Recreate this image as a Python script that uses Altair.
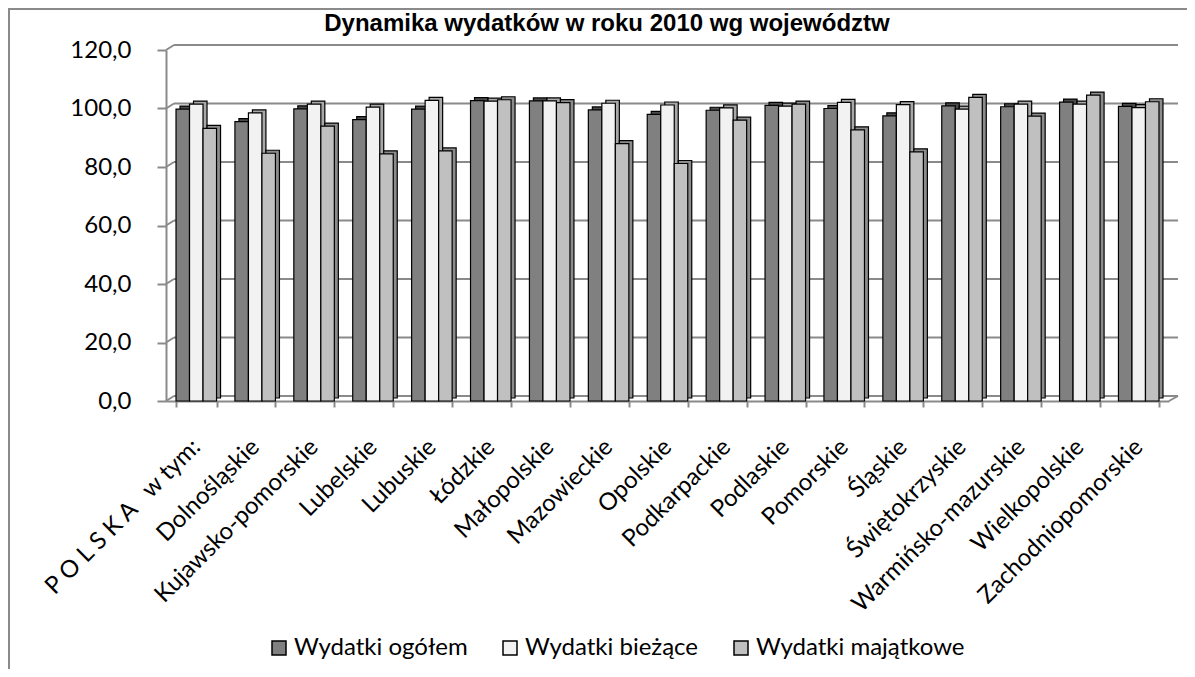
import altair as alt
import pandas as pd

title_text = "Dynamika wydatków w roku 2010 wg województw"
categories = ["P O L S K A\u00a0\u00a0\u00a0w tym:", "Dolnośląskie", "Kujawsko-pomorskie", "Lubelskie",
              "Lubuskie", "Łódzkie", "Małopolskie", "Mazowieckie", "Opolskie",
              "Podkarpackie", "Podlaskie", "Pomorskie", "Śląskie", "Świętokrzyskie",
              "Warmińsko-mazurskie", "Wielkopolskie", "Zachodniopomorskie"]
series = ["Wydatki ogółem", "Wydatki bieżące", "Wydatki majątkowe"]
ogolem = [99.8, 95.5, 99.9, 96.2, 99.8, 102.7, 102.6, 99.5, 98.0, 99.4, 101.1, 100.0, 97.5, 100.9, 100.6, 102.2, 100.7]
biezace = [101.5, 98.5, 101.5, 100.5, 102.8, 102.5, 102.6, 101.8, 101.2, 100.2, 100.8, 102.1, 101.3, 99.8, 101.5, 101.5, 100.3]
majatkowe = [93.2, 84.7, 94.0, 84.5, 85.5, 103.0, 102.0, 88.0, 81.2, 96.0, 101.5, 92.7, 85.2, 103.8, 97.4, 104.6, 102.3]
y_ticks = [0, 20, 40, 60, 80, 100, 120]

rows = []
for i, c in enumerate(categories):
    for s, vals in zip(series, [ogolem, biezace, majatkowe]):
        rows.append({"kategoria": c, "seria": s, "wartosc": vals[i]})
df = pd.DataFrame(rows)
grid = pd.DataFrame({"v": y_ticks})
one = pd.DataFrame({"k": [0]})

W, H = 1003, 351
FONT = "Lato"
GRAY = "#8a8a8a"
front_colors = ["#808080", "#f2f2f2", "#c0c0c0"]
depth_colors = ["#4a4a4a", "#a8a8a8", "#8c8c8c"]

yscale = alt.Scale(domain=[0, 120], nice=False)
yaxis = alt.Axis(values=y_ticks, title=None, grid=False,
                 labelExpr="replace(format(datum.value, '.1f'), '.', ',')",
                 labelFont=FONT, labelFontSize=24, labelColor="black",
                 labelPadding=26, tickSize=9, tickColor=GRAY, tickWidth=2,
                 domainColor=GRAY, domainWidth=2)

box = alt.Chart(one).mark_rect(fill=None, stroke=GRAY, strokeWidth=2).encode(
    x=alt.value(-157), x2=alt.value(W + 200), y=alt.value(-41), y2=alt.value(H + 500))

title = alt.Chart(one).mark_text(font="Liberation Sans", fontSize=24, fontWeight="bold",
                                 color="black", align="center", baseline="alphabetic").encode(
    x=alt.value(441), y=alt.value(-19), text=alt.value(title_text))

backgrid = alt.Chart(grid).mark_rule(color=GRAY, strokeWidth=2, yOffset=-5).encode(
    y=alt.Y("v:Q", scale=yscale, axis=yaxis), x=alt.value(8), x2=alt.value(W + 9))

connect = alt.Chart(grid).mark_rule(color=GRAY, strokeWidth=2, y2Offset=-5).encode(
    y=alt.Y("v:Q", scale=yscale, axis=yaxis), y2="v:Q", x=alt.value(0), x2=alt.value(8))

floor_side = alt.Chart(grid).transform_filter("datum.v == 0").mark_rule(
    color=GRAY, strokeWidth=2, y2Offset=-5).encode(
    y=alt.Y("v:Q", scale=yscale, axis=yaxis), y2="v:Q", x=alt.value(W), x2=alt.value(W + 9))

depth = alt.Chart(df).mark_bar(stroke="black", strokeWidth=1.2, yOffset=-3, y2Offset=-3).encode(
    x=alt.X("kategoria:N", sort=categories,
            scale=alt.Scale(range=[4, W + 4], paddingInner=0.312, paddingOuter=0.17), axis=None),
    xOffset=alt.XOffset("seria:N", sort=series),
    y=alt.Y("wartosc:Q", scale=yscale, axis=yaxis),
    color=alt.Color("seria:N", sort=series,
                    scale=alt.Scale(domain=series, range=depth_colors), legend=None))

front = alt.Chart(df).mark_bar(stroke="black", strokeWidth=1.2).encode(
    x=alt.X("kategoria:N", sort=categories,
            scale=alt.Scale(range=[0, W], paddingInner=0.312, paddingOuter=0.17),
            axis=alt.Axis(title=None, labelAngle=-45, labelFont=FONT, labelFontSize=24,
                          labelColor="black", labelPadding=36, labelBaseline="middle",
                          labelAlign="right", tickBand="extent",
                          tickSize=6, tickColor=GRAY, tickWidth=2,
                          domainColor=GRAY, domainWidth=2, labelLimit=400)),
    xOffset=alt.XOffset("seria:N", sort=series),
    y=alt.Y("wartosc:Q", scale=yscale, axis=yaxis),
    color=alt.Color("seria:N", sort=series,
                    scale=alt.Scale(domain=series, range=front_colors),
                    legend=alt.Legend(title=None, orient="none", legendX=101, legendY=586,
                                      direction="horizontal", symbolType="square",
                                      symbolSize=196, symbolStrokeColor="black",
                                      symbolStrokeWidth=1.5, labelFont=FONT,
                                      labelFontSize=24, labelColor="black", labelLimit=400,
                                      columnPadding=30, labelOffset=3)))

chart = alt.layer(box, title, backgrid, connect, floor_side, depth, front).resolve_scale(
    x="independent", xOffset="independent", color="independent"
).properties(
    width=W, height=H,
    autosize=alt.AutoSizeParams(type="none"),
    padding={"left": 158, "top": 42, "right": 18, "bottom": 268},
    background="white"
).configure_view(stroke=None)

chart.save("out.html", embed_options={"renderer": "svg", "actions": False})
